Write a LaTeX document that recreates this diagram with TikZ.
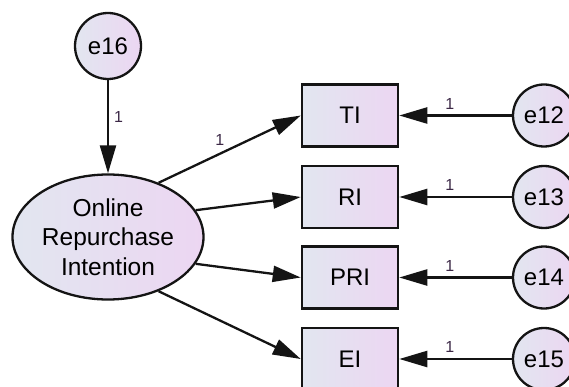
\documentclass[tikz,border=0pt]{standalone}
\usepackage{fontspec}
\setmainfont{Liberation Sans}
\usetikzlibrary{shapes.geometric,arrows.meta,positioning}
\definecolor{fillleft}{RGB}{226,230,240}
\definecolor{fillright}{RGB}{236,214,242}
\definecolor{linecolor}{RGB}{20,20,20}
\definecolor{lblcolor}{RGB}{60,40,70}

\begin{document}
\begin{tikzpicture}[
    x=1pt, y=-1pt,
    latent/.style={ellipse, draw=linecolor, line width=2.3pt, left color=fillleft, right color=fillright, minimum width=191pt, minimum height=125pt, inner sep=0pt, align=center, font=\fontsize{24.5}{29.5}\selectfont},
    obs/.style={rectangle, draw=linecolor, line width=2.5pt, left color=fillleft, right color=fillright, minimum width=96pt, minimum height=62pt, font=\fontsize{24}{28}\selectfont},
    err/.style={circle, draw=linecolor, line width=2.3pt, left color=fillleft, right color=fillright, minimum size=66pt, inner sep=0pt, font=\fontsize{24}{28}\selectfont},
    lbl/.style={font=\fontsize{16}{19}\selectfont, text=lblcolor, inner sep=1pt},
    path/.style={-{Triangle[length=28pt, width=16pt]}, draw=linecolor, line width=2.3pt}
]
    \useasboundingbox (0,0) rectangle (569,387);
    \clip (0,0) rectangle (569,387);

    % Latent variable and its error
    \node[latent] (ori) at (108,237) {Online\\Repurchase\\Intention};
    \node[err] (e16) at (108,46) {e16};

    % Indicators and errors
    \foreach \ind/\txt/\e/\y in {ti/TI/e12/115.5, ri/RI/e13/197, pri/PRI/e14/277.5, ei/EI/e15/359} {
        \node[obs] (\ind) at (350,\y) {\txt};
        \node[err, minimum size=62pt] (\e) at (544,\y) {\e};
        \draw[path] (\e) -- (\ind) node[lbl, pos=0.55, above=4pt] {1};
    }

    % Structural paths
    \draw[path] (e16) -- (ori) node[lbl, pos=0.4, right=4pt] {1};
    \draw[path] (ori.47) -- (ti.west) node[lbl, pos=0.43, above=6pt] {1};
    \draw[path] (ori.17) -- (ri.west);
    \draw[path] (ori.-17) -- (pri.west);
    \draw[path] (ori.-47) -- (ei.west);
\end{tikzpicture}
\end{document}
